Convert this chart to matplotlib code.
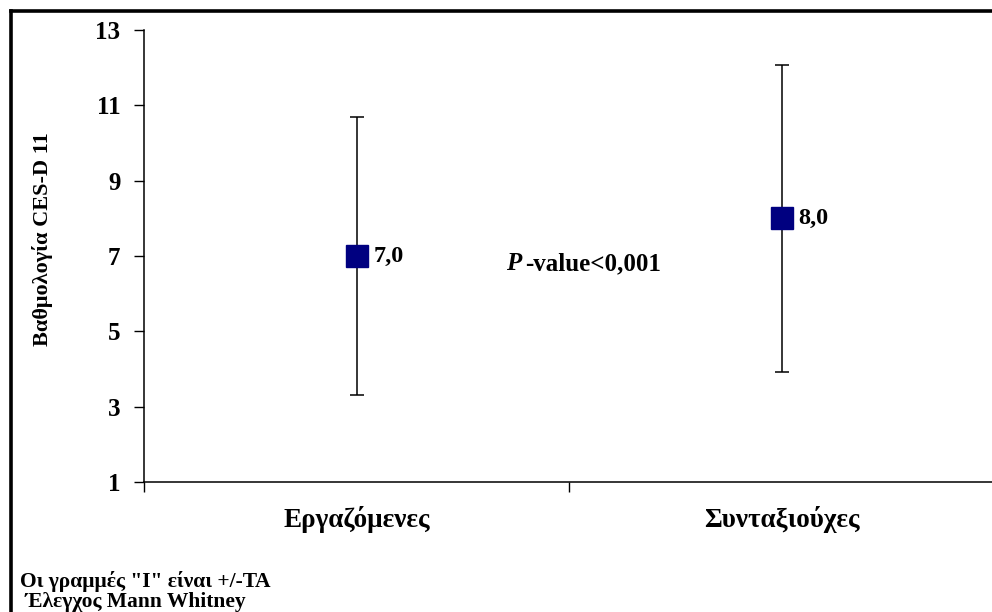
import matplotlib
matplotlib.use("Agg")
import matplotlib.pyplot as plt
from matplotlib.lines import Line2D

plt.rcParams['font.family'] = ['Liberation Serif', 'DejaVu Serif']
plt.rcParams['font.weight'] = 'bold'

categories = ["Εργαζόμενες", "Συνταξιούχες"]
means = [7.0, 8.0]
lower = [3.3, 3.93]
upper = [10.7, 12.07]
value_labels = ["7,0", "8,0"]
yticks = [1, 3, 5, 7, 9, 11, 13]
ylabel = "Βαθμολογία CES-D 11"
pvalue_text = "-value<0,001"
footnote = ['Οι γραμμές "Ι" είναι +/-ΤΑ', ' Έλεγχος Mann Whitney']

W, H = 992, 612
fig = plt.figure(figsize=(W / 100, H / 100), dpi=100)
fig.patch.set_facecolor('white')

left_px, right_px, top_px, bot_px = 144, 994, 30, 482
ax = fig.add_axes([left_px / W, 1 - bot_px / H, (right_px - left_px) / W, (bot_px - top_px) / H])

x = list(range(len(categories)))
yerr = [[m - l for m, l in zip(means, lower)], [u - m for m, u in zip(means, upper)]]
ax.errorbar(x, means, yerr=yerr, fmt='s', color='#000080', markersize=16.5,
            ecolor='black', elinewidth=1.1, capsize=4.8, capthick=1.1, zorder=3)
for xi, m, lab in zip(x, means, value_labels):
    ax.annotate(lab, xy=(xi, m), xytext=(12, 0), textcoords='offset points',
                ha='left', va='center', fontsize=17.5, fontweight='bold')

ax.set_xlim(-0.5, 1.5)
ax.set_ylim(1, 13)
ax.set_yticks(yticks)
ax.set_yticklabels([str(t) for t in yticks], fontsize=18, fontweight='bold')
ax.set_xticks([-0.5, 0.5, 1.5])
ax.set_xticklabels([])
ax.tick_params(axis='both', direction='out', length=7, width=1.0, color='black')
ax.tick_params(axis='y', pad=10)
for s in ['top', 'right']:
    ax.spines[s].set_visible(False)
for s in ['left', 'bottom']:
    ax.spines[s].set_linewidth(1.1)

for xi, c in zip(x, categories):
    ax.annotate(c, xy=(xi, 1), xycoords='data', xytext=(0, -32.4), textcoords='offset points',
                ha='center', va='baseline', fontsize=19.5, fontweight='bold', annotation_clip=False)

ax.set_ylabel(ylabel, fontsize=16, fontweight='bold', va='center', ha='center')
ax.yaxis.set_label_coords(-(left_px - 43) / (right_px - left_px),
                          1 - (239 - top_px) / (bot_px - top_px))

t1 = ax.text(0.352, 6.8, "P", fontsize=18, fontweight='bold', style='italic', ha='left', va='center')
ax.annotate(pvalue_text, xy=(1, 0.5), xycoords=t1, xytext=(3, 0), textcoords='offset points',
            ha='left', va='center', fontsize=18, fontweight='bold')

fig.text(20 / W, 1 - 587 / H, footnote[0], fontsize=15.5, fontweight='bold', ha='left', va='baseline')
fig.text(20 / W, 1 - 607 / H, footnote[1], fontsize=15.5, fontweight='bold', ha='left', va='baseline')

# outer frame (top and left visible; right/bottom cropped)
fig.add_artist(Line2D([11 / W, 11 / W], [0, 1 - 11 / H], transform=fig.transFigure, color='black', linewidth=2.6))
fig.add_artist(Line2D([11 / W, 1], [1 - 11 / H, 1 - 11 / H], transform=fig.transFigure, color='black', linewidth=2.6))

fig.savefig('out.png', dpi=100)
